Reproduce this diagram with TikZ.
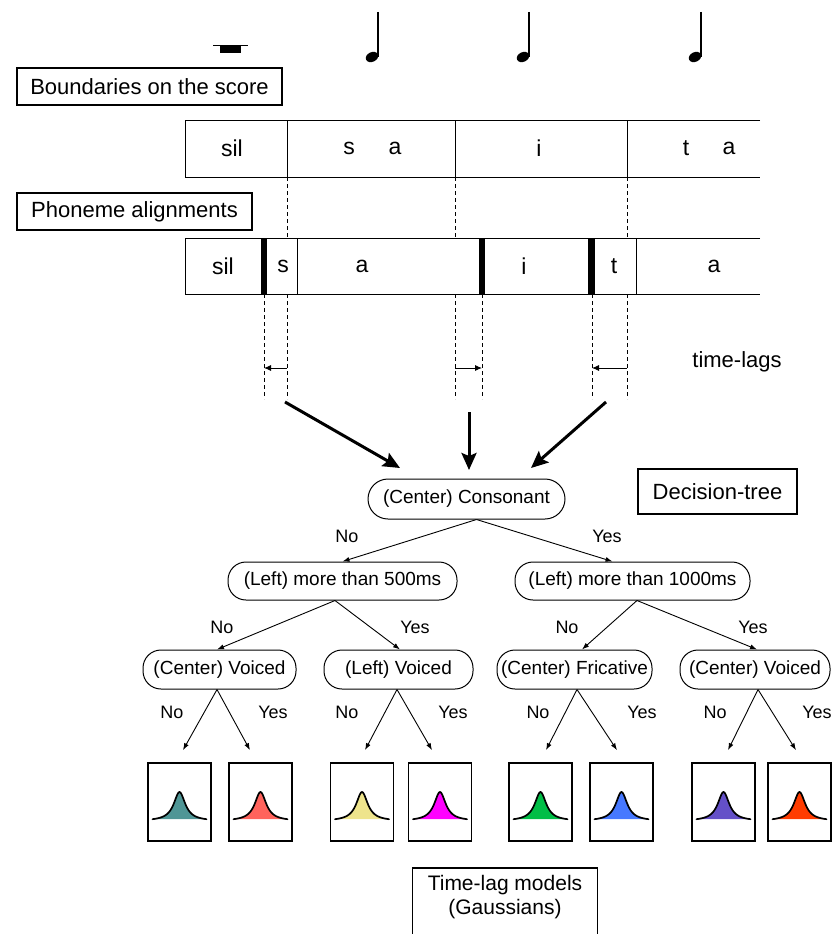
\documentclass[tikz,border=0pt]{standalone}
\usepackage{fontspec}
\setmainfont{Liberation Sans}
\usetikzlibrary{arrows.meta}
\definecolor{gA}{RGB}{79,150,150}
\definecolor{gB}{RGB}{255,99,92}
\definecolor{gC}{RGB}{238,228,140}
\definecolor{gD}{RGB}{255,0,255}
\definecolor{gE}{RGB}{0,190,70}
\definecolor{gF}{RGB}{70,120,255}
\definecolor{gG}{RGB}{100,80,200}
\definecolor{gH}{RGB}{255,60,0}
\newcommand\gaussbump[2]{%
  \fill[#2] plot[domain=-27:27,samples=61,smooth] ({#1+\x},{821-29/(1+(\x/7)*(\x/7))}) -- cycle;
  \draw[line width=1.7pt,line cap=round] plot[domain=-27:27,samples=61,smooth] ({#1+\x},{821-29/(1+(\x/7)*(\x/7))});
}
\begin{document}
\begin{tikzpicture}[x=1pt,y=-1pt,
  lbl/.style={draw, line width=1.1pt, inner sep=0pt, font=\fontsize{22}{24}\selectfont},
  phon/.style={font=\fontsize{23}{25}\selectfont},
  q/.style={draw, line width=1pt, rounded corners=18pt, minimum height=38pt, inner sep=0pt, font=\fontsize{19}{21}\selectfont},
  yn/.style={font=\fontsize{18}{20}\selectfont},
  leaf/.style={draw, line width=1.7pt, minimum width=63pt, minimum height=78pt, inner sep=0pt},
  tarr/.style={line width=0.9pt, -{Latex[length=7pt,width=5pt]}},
  bigarr/.style={line width=3pt, -{Stealth[length=17pt,width=15pt,inset=3pt]}},
  dsh/.style={line width=0.9pt, dash pattern=on 4pt off 3pt},
  lagarr/.style={line width=0.9pt, -{Latex[length=7pt,width=6pt]}},
  bar/.style={line width=1pt}
]
\useasboundingbox (0,0) rectangle (831,934);

% score symbols
\draw[line width=1.6pt] (213,45.5) -- (248,45.5);
\fill (220,45) rectangle (241,53);
\foreach \sx in {378,529,701}{
  \draw[line width=1.6pt] (\sx,12) -- (\sx,57);
  \fill[rotate around={25:(\sx-6,57)}] (\sx-6,57) ellipse (6.5 and 4.8);
}

% label boxes
\node[lbl, minimum width=265pt, minimum height=37pt] (bscore) at (149.5,86.5) {Boundaries on the score};
\node[lbl, minimum width=235pt, minimum height=37pt] (palign) at (134.5,211.5) {Phoneme alignments};
\node[lbl, minimum width=159pt, minimum height=45pt] (dtree) at (717.5,491.5) {Decision-tree};

% score bar
\draw[bar] (760,120) -- (185,120) -- (185,177) -- (760,177);
\foreach \bx in {287,455,627}{ \draw[bar] (\bx,120) -- (\bx,177); }
\node[phon] (s1) at (232,148) {sil};
\node[phon] (s2) at (349,148) {s};
\node[phon] (s3) at (395,148) {a};
\node[phon] (s4) at (539,148) {i};
\node[phon] (s5) at (686,148) {t};
\node[phon] (s6) at (729,148) {a};

% dashed between bars
\foreach \bx in {287,455,627}{ \draw[dsh] (\bx,177) -- (\bx,238); }

% phoneme bar
\draw[bar] (760,238) -- (185,238) -- (185,294) -- (760,294);
\draw[bar] (297,238) -- (297,294);
\draw[bar] (636,238) -- (636,294);
\fill (261,238) rectangle (267,294);
\fill (479,238) rectangle (485,294);
\fill (588,238) rectangle (595,294);
\node[phon] (p1) at (223,266) {sil};
\node[phon] (p2) at (283,266) {s};
\node[phon] (p3) at (362,266) {a};
\node[phon] (p4) at (524,266) {i};
\node[phon] (p5) at (614,266) {t};
\node[phon] (p6) at (714,266) {a};

% time-lag lines
\foreach \bx in {264,287,455,482,592,627}{ \draw[dsh] (\bx,294) -- (\bx,399); }
\coordinate (l1a) at (287,368); \coordinate (l1b) at (264,368);
\coordinate (l2a) at (455,368); \coordinate (l2b) at (482,368);
\coordinate (l3a) at (627,368); \coordinate (l3b) at (592,368);
\draw[lagarr] (l1a) -- (l1b);
\draw[lagarr] (l2a) -- (l2b);
\draw[lagarr] (l3a) -- (l3b);
\node[font=\fontsize{22}{24}\selectfont] (tlags) at (737,362) {time-lags};

% tree
\node[q, minimum width=197pt, minimum height=40pt, rounded corners=20pt] (root) at (466.5,499) {(Center) Consonant};
\node[q, minimum width=229pt] (L2a) at (342.5,581) {(Left) more than 500ms};
\node[q, minimum width=235pt] (L2b) at (632.5,581) {(Left) more than 1000ms};
\node[q, minimum width=153pt, minimum height=39pt] (L3a) at (219.5,669.5) {(Center) Voiced};
\node[q, minimum width=149pt, minimum height=39pt] (L3b) at (398.5,669.5) {(Left) Voiced};
\node[q, minimum width=155pt, minimum height=39pt] (L3c) at (574.5,669.5) {(Center) Fricative};
\node[q, minimum width=150pt, minimum height=39pt] (L3d) at (755,669.5) {(Center) Voiced};

% big arrows
\coordinate (b1s) at (285,402); \coordinate (b1e) at (400,468);
\coordinate (b2s) at (469,412); \coordinate (b2e) at (469,470);
\coordinate (b3s) at (606,402); \coordinate (b3e) at (531,468);
\draw[bigarr] (b1s) -- (b1e);
\draw[bigarr] (b2s) -- (b2e);
\draw[bigarr] (b3s) -- (b3e);

\draw[tarr] ([xshift=10pt]root.south) -- (L2a.north);
\draw[tarr] ([xshift=10pt]root.south) -- ([xshift=-20pt]L2b.north);
\draw[tarr] ([xshift=-7.5pt]L2a.south) -- ([xshift=-2.5pt]L3a.north);
\draw[tarr] ([xshift=-7.5pt]L2a.south) -- ([xshift=1.5pt]L3b.north);
\draw[tarr] ([xshift=4.5pt]L2b.south) -- ([xshift=7.5pt]L3c.north);
\draw[tarr] ([xshift=4.5pt]L2b.south) -- ([xshift=2pt]L3d.north);

\node[yn] (y1) at (347,536) {No};
\node[yn] (y2) at (607,536) {Yes};
\node[yn] (y3) at (222,627) {No};
\node[yn] (y4) at (415,627) {Yes};
\node[yn] (y5) at (567,627) {No};
\node[yn] (y6) at (753,627) {Yes};
\node[yn] (y7) at (172,712) {No};
\node[yn] (y8) at (273,712) {Yes};
\node[yn] (y9) at (347,712) {No};
\node[yn] (y10) at (453,712) {Yes};
\node[yn] (y11) at (538,712) {No};
\node[yn] (y12) at (642,712) {Yes};
\node[yn] (y13) at (715,712) {No};
\node[yn] (y14) at (817,712) {Yes};

% leaves
\node[leaf] (g1) at (179.5,802) {};
\node[leaf] (g2) at (260.5,802) {};
\node[leaf] (g3) at (362,802) {};
\node[leaf] (g4) at (440,802) {};
\node[leaf] (g5) at (540.5,802) {};
\node[leaf] (g6) at (621.5,802) {};
\node[leaf] (g7) at (723.5,802) {};
\node[leaf] (g8) at (799.5,802) {};
\gaussbump{179.5}{gA}
\gaussbump{260.5}{gB}
\gaussbump{362}{gC}
\gaussbump{440}{gD}
\gaussbump{540.5}{gE}
\gaussbump{621.5}{gF}
\gaussbump{723.5}{gG}
\gaussbump{799.5}{gH}

\draw[tarr] ([xshift=-2.5pt]L3a.south) -- ([xshift=3.5pt,yshift=12pt]g1.north);
\draw[tarr] ([xshift=-2.5pt]L3a.south) -- ([xshift=-10.5pt,yshift=12pt]g2.north);
\draw[tarr] ([xshift=-1.5pt]L3b.south) -- ([xshift=3pt,yshift=12pt]g3.north);
\draw[tarr] ([xshift=-1.5pt]L3b.south) -- ([xshift=-8pt,yshift=12pt]g4.north);
\draw[tarr] ([xshift=2.5pt]L3c.south) -- ([xshift=5.5pt,yshift=12pt]g5.north);
\draw[tarr] ([xshift=2.5pt]L3c.south) -- ([xshift=-4.5pt,yshift=12pt]g6.north);
\draw[tarr] ([xshift=3pt]L3d.south) -- ([xshift=4.5pt,yshift=12pt]g7.north);
\draw[tarr] ([xshift=3pt]L3d.south) -- ([xshift=-3.5pt,yshift=12pt]g8.north);

% bottom label
\node[anchor=north, align=center, minimum width=184pt, inner xsep=0pt, inner ysep=7pt, font=\fontsize{21}{24}\selectfont] (tlm) at (505,868) {Time-lag models\\(Gaussians)};
\draw[line width=1.1pt] ([yshift=-20pt]tlm.south west) -- (tlm.north west) -- (tlm.north east) -- ([yshift=-20pt]tlm.south east);
\end{tikzpicture}
\end{document}
